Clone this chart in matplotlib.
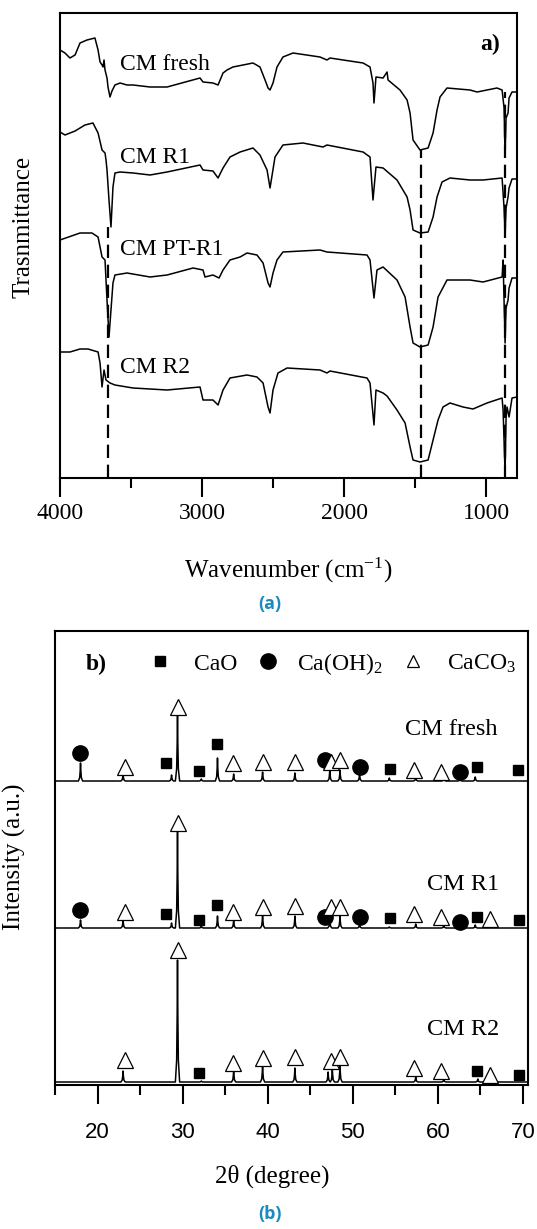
import numpy as np
import matplotlib
matplotlib.use("Agg")
import matplotlib.pyplot as plt

plt.rcParams['font.family'] = 'Liberation Serif'
plt.rcParams['mathtext.fontset'] = 'custom'
plt.rcParams['mathtext.rm'] = 'Liberation Serif'
plt.rcParams['mathtext.it'] = 'Liberation Serif:italic'

W, H = 537, 1229

# ---------------- FTIR spectra (wavenumber, transmittance in arb. units)
fresh_wn = [4000, 3965, 3930, 3894, 3859, 3810, 3754, 3732, 3718, 3704, 3697, 3690, 3683, 3669,
            3662, 3648, 3634, 3613, 3577, 3528, 3486, 3366, 3246, 3014, 2993, 2923, 2887, 2852,
            2824, 2782, 2641, 2592, 2556, 2535, 2521, 2500, 2472, 2430, 2359, 2169, 2120, 2099,
            1866, 1817, 1796, 1789, 1775, 1725, 1697, 1690, 1606, 1556, 1535, 1514, 1465, 1408,
            1373, 1345, 1324, 1275, 1113, 1063, 923, 887, 873, 866, 859, 845, 838, 817, 782]
fresh_t = [428, 425, 420, 423, 435, 438, 440, 428, 416, 413, 411, 418, 408, 400,
           391, 381, 387, 393, 395, 393, 393, 391, 391, 400, 396, 395, 393, 405,
           408, 411, 415, 411, 398, 390, 388, 395, 411, 421, 425, 421, 418, 420,
           415, 411, 395, 375, 401, 400, 406, 398, 388, 378, 365, 338, 328, 330,
           345, 368, 381, 390, 388, 386, 390, 388, 370, 321, 360, 365, 380, 386, 386]

r1_wn = [4000, 3965, 3894, 3859, 3824, 3768, 3732, 3704, 3683, 3676, 3669, 3655, 3641, 3627,
         3613, 3577, 3486, 3366, 3246, 3014, 2993, 2923, 2887, 2852, 2803, 2732, 2641, 2592,
         2542, 2521, 2486, 2430, 2289, 2148, 2120, 1866, 1817, 1796, 1775, 1725, 1627, 1556,
         1535, 1514, 1465, 1408, 1373, 1345, 1310, 1254, 1113, 1021, 887, 873, 866, 859, 845,
         838, 817, 782]
r1_t = [346, 343, 347, 350, 353, 355, 345, 328, 325, 318, 308, 278, 251, 291,
        305, 306, 305, 303, 306, 313, 308, 307, 300, 310, 321, 326, 330, 323,
        308, 290, 321, 333, 335, 331, 333, 326, 321, 278, 311, 310, 298, 281,
        268, 248, 245, 246, 261, 281, 296, 300, 298, 298, 300, 270, 241, 270, 281,
        290, 299, 299]

pt_wn = [4000, 3859, 3775, 3732, 3704, 3683, 3669, 3655, 3627, 3613, 3528, 3366, 3246, 3063,
         2993, 2979, 2923, 2880, 2852, 2803, 2732, 2683, 2613, 2570, 2535, 2521, 2500, 2472,
         2430, 2169, 2120, 1838, 1817, 1789, 1768, 1725, 1627, 1570, 1535, 1514, 1465, 1408,
         1373, 1338, 1275, 1113, 1021, 887, 880, 866, 859, 845, 838, 817, 782]
pt_t = [238, 245, 245, 241, 221, 218, 178, 141, 195, 203, 205, 201, 203, 210,
        208, 201, 203, 200, 208, 218, 221, 225, 223, 215, 195, 191, 205, 218,
        226, 228, 226, 223, 218, 180, 208, 211, 198, 181, 151, 135, 131, 133,
        151, 181, 198, 198, 196, 201, 218, 135, 170, 178, 190, 200, 200]

r2_wn = [4000, 3930, 3859, 3803, 3732, 3718, 3704, 3690, 3676, 3648, 3613, 3486, 3246, 3014,
         2993, 2923, 2887, 2852, 2803, 2683, 2613, 2570, 2535, 2521, 2500, 2465, 2401, 2169,
         2120, 2099, 1838, 1817, 1789, 1775, 1725, 1697, 1627, 1570, 1535, 1514, 1465, 1408,
         1373, 1338, 1303, 1254, 1162, 1092, 993, 887, 880, 866, 859, 852, 838, 817, 782]
r2_t = [126, 126, 129, 129, 126, 115, 91, 108, 98, 95, 93, 90, 88, 91,
        78, 78, 73, 88, 100, 103, 101, 95, 71, 65, 88, 105, 110, 108,
        105, 107, 100, 95, 53, 88, 85, 82, 68, 55, 31, 18, 16, 18,
        38, 58, 71, 75, 71, 69, 75, 80, 68, 5, 60, 71, 61, 80, 81]

ftir_labels = ['CM fresh', 'CM R1', 'CM PT-R1', 'CM R2']
ftir_label_y = [408, 315, 223, 105]
band_wn = [3660, 1458, 870]
band_top = [251, 328, 386]

# ---------------- XRD patterns: peak (2theta, height) above each baseline
xrd_labels = ['CM fresh', 'CM R1', 'CM R2']
xrd_base = [304, 157, 3]
xrd_label_x = [56.1, 58.7, 58.7]
xrd_label_y = [350, 195, 50]
fresh_peaks = [(18.0, 18), (23.0, 7), (28.7, 6), (29.4, 68), (32.2, 2), (34.1, 23), (36.0, 7),
               (39.4, 9), (43.2, 8), (47.3, 11), (48.5, 11), (50.8, 7), (54.3, 3), (57.4, 4),
               (60.7, 3), (62.6, 2), (64.4, 4)]
r1_peaks = [(18.0, 8), (23.0, 8), (28.7, 5), (29.4, 96), (32.2, 2), (34.1, 12), (36.0, 8),
            (39.4, 13), (43.2, 12), (47.3, 9), (48.5, 12), (50.8, 4), (54.3, 1), (57.4, 4),
            (60.7, 3), (64.4, 3)]
r2_peaks = [(23.0, 11), (29.4, 122), (32.2, 1), (36.0, 12), (39.4, 17), (43.2, 14),
            (47.1, 10), (47.6, 13), (48.5, 17), (57.4, 5), (60.7, 3), (64.7, 3)]

# phase markers (2theta, y)
cao_x = [28.1, 31.9, 34.1, 54.4, 64.6, 69.4, 28.1, 31.9, 34.1, 54.4, 64.6, 69.5, 31.9, 64.6, 69.5]
cao_y = [322, 314, 341, 316, 318, 315, 171, 165, 180, 167, 168, 165, 12, 14, 10]
caoh_x = [17.9, 46.7, 50.8, 62.6, 17.9, 46.7, 50.8, 62.6]
caoh_y = [332, 325, 318, 313, 175, 168, 168, 163]
caco_x = [23.2, 29.5, 35.9, 39.4, 43.2, 47.5, 48.5, 57.2, 60.4,
          23.2, 29.5, 35.9, 39.4, 43.2, 47.5, 48.5, 57.2, 60.4, 66.1,
          23.2, 29.5, 35.9, 39.4, 43.2, 47.5, 48.5, 57.2, 60.4, 66.1]
caco_y = [318, 378, 322, 323, 323, 323, 325, 315, 313,
          173, 262, 173, 178, 179, 178, 178, 171, 168, 166,
          25, 135, 22, 27, 28, 24, 28, 17, 14, 10]


def pattern(peaks, base):
    # each read peak drawn as a narrow spike with a flared foot
    xs, ys = [15.0], [base]
    for p, h in peaks:
        xs += [p - 0.25, p - 0.1, p - 0.04, p, p + 0.04, p + 0.1, p + 0.25]
        ys += [base, base + 0.18 * h, base + 0.55 * h, base + h,
               base + 0.55 * h, base + 0.18 * h, base]
    xs.append(70.6)
    ys.append(base)
    return xs, ys


def style_box(ax):
    for s in ax.spines.values():
        s.set_linewidth(1.5)
    ax.tick_params(axis='y', left=False, labelleft=False)
    ax.tick_params(axis='x', which='major', direction='out', length=14, width=1.5)
    ax.tick_params(axis='x', which='minor', direction='out', length=7, width=1.5)


fig = plt.figure(figsize=(W / 100, H / 100), dpi=100)

# ======================= (a) FTIR
ax1 = fig.add_axes([60 / W, 1 - 478 / H, 457 / W, 465 / H])
for wn, t in [(fresh_wn, fresh_t), (r1_wn, r1_t), (pt_wn, pt_t), (r2_wn, r2_t)]:
    ax1.plot(wn, t, color='black', lw=1.1)
for b, top in zip(band_wn, band_top):
    ax1.plot([b, b], [0, top], color='black', lw=1.6, dashes=(6, 3))
for lab, y in zip(ftir_labels, ftir_label_y):
    ax1.text(3577, y, lab, fontsize=17, va='baseline', ha='left')
ax1.text(1042, 428, 'a)', fontsize=17, fontweight='bold', va='baseline', ha='left')
ax1.set_xlim(4000, 782)
ax1.set_ylim(0, 465)
ax1.set_xticks([4000, 3000, 2000, 1000])
ax1.set_xticks([3500, 2500, 1500], minor=True)
style_box(ax1)
ax1.tick_params(axis='x', labelsize=17, pad=4)
for lbl in ax1.get_xticklabels():
    lbl.set_fontfamily('Liberation Serif')

fig.text(288 / W, 1 - 570 / H, 'Wavenumber (cm$^{-1}$)', fontsize=18, ha='center', va='center')
fig.text(24 / W, 1 - 227 / H, 'Trasnmittance', fontsize=18, ha='center', va='center', rotation=90)

# ======================= (b) XRD
ax2 = fig.add_axes([55 / W, 1 - 1085 / H, 473 / W, 454 / H])
for pk, base in zip([fresh_peaks, r1_peaks, r2_peaks], xrd_base):
    xs, ys = pattern(pk, base)
    ax2.plot(xs, ys, color='black', lw=1.1)
ax2.plot(cao_x, cao_y, ls='none', marker='s', ms=7.5, color='black')
ax2.plot(caoh_x, caoh_y, ls='none', marker='o', ms=11, color='black')
ax2.plot(caco_x, caco_y, ls='none', marker='^', ms=11, mfc='white', mec='black', mew=0.9)
for lab, x0, y in zip(xrd_labels, xrd_label_x, xrd_label_y):
    ax2.text(x0, y, lab, fontsize=17.5, va='baseline', ha='left')

# phase key
ax2.text(19.9, 415, 'b)', fontsize=17, fontweight='bold', va='baseline', ha='center')
ax2.plot([27.4], [424], ls='none', marker='s', ms=7.5, color='black')
ax2.text(31.3, 415, 'CaO', fontsize=17, va='baseline')
ax2.plot([40.0], [424], ls='none', marker='o', ms=11, color='black')
ax2.text(43.5, 415, 'Ca(OH)$_2$', fontsize=17, va='baseline')
ax2.plot([57.1], [424], ls='none', marker='^', ms=9, mfc='white', mec='black', mew=0.9)
ax2.text(61.1, 415, 'CaCO$_3$', fontsize=17, va='baseline')

ax2.set_xlim(15, 70.6)
ax2.set_ylim(0, 454)
ax2.set_xticks([20, 30, 40, 50, 60, 70])
ax2.set_xticks([15, 25, 35, 45, 55, 65], minor=True)
style_box(ax2)
ax2.tick_params(axis='x', labelsize=16, pad=13)
for lbl in ax2.get_xticklabels():
    lbl.set_fontfamily('Liberation Sans')

fig.text(272 / W, 1 - 1176 / H, '2θ (degree)', fontsize=18, ha='center', va='center')
fig.text(14 / W, 1 - 857 / H, 'Intensity (a.u.)', fontsize=18, ha='center', va='center', rotation=90)

# captions
cap = '#1a8ac0'
fig.text(270 / W, 1 - 604 / H, '(a)', fontsize=13, fontweight='bold', color=cap,
         family='Open Sans', ha='center', va='center')
fig.text(270 / W, 1 - 1214 / H, '(b)', fontsize=13, fontweight='bold', color=cap,
         family='Open Sans', ha='center', va='center')

fig.savefig('out.png', dpi=100)
